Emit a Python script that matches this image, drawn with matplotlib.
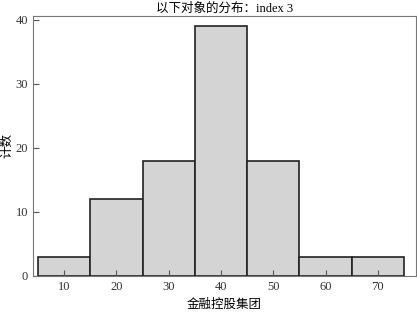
import matplotlib
matplotlib.use('Agg')
import matplotlib.pyplot as plt

bin_centers = [10, 20, 30, 40, 50, 60, 70]
counts = [3, 12, 18, 39, 18, 3, 3]
bin_width = 10

plt.rcParams['font.family'] = ['Liberation Serif', 'Noto Sans CJK SC']

fig = plt.figure(figsize=(4.17, 3.12), dpi=100)
ax = fig.add_axes([33/417, 36/312, 383/417, 260/312])

ax.bar(bin_centers, counts, width=bin_width, color='#d4d4d4',
       edgecolor='#222222', linewidth=1.2)

ax.set_xlim(4.05, 77.3)
ax.set_ylim(0, 40.6)
ax.set_xticks(bin_centers)
ax.set_yticks([0, 10, 20, 30, 40])
ax.tick_params(direction='in', length=4, width=0.8, colors='#555555',
               labelcolor='#333333', labelsize=9, top=False, right=False)
for s in ax.spines.values():
    s.set_color('#777777')
    s.set_linewidth(0.8)

ax.set_title('以下对象的分布：index 3', fontsize=9, pad=3)
ax.set_xlabel('金融控股集团', fontsize=9, labelpad=4)
ax.set_ylabel('计数', fontsize=9, labelpad=2)

fig.savefig('out.png', dpi=100)
